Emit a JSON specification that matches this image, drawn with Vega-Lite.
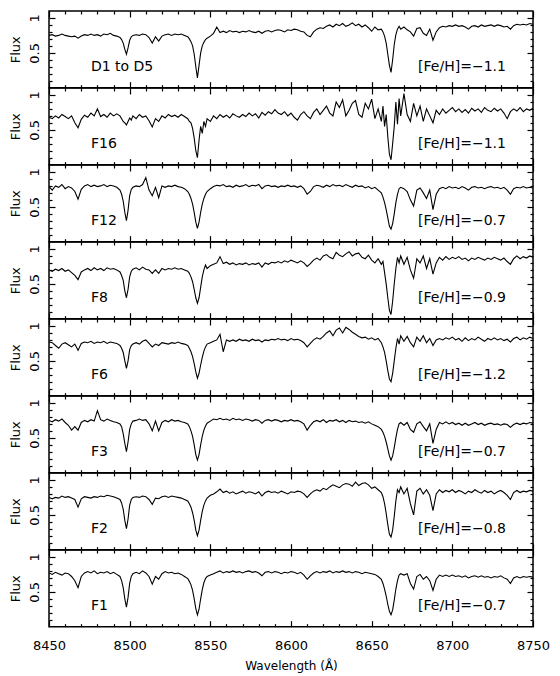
{
"$schema": "https://vega.github.io/schema/vega-lite/v6.json",
"padding": {"left": 8, "top": 9, "right": 5, "bottom": 5},
"spacing": 0,
"bounds": "flush",
"config": {
  "view": {"stroke": "black", "strokeWidth": 1.5},
  "font": "DejaVu Sans",
  "axis": {"domain": false, "grid": false, "tickColor": "black", "tickWidth": 1.2, "labelColor": "black", "labelFontSize": 13, "labelFont": "DejaVu Sans", "titleColor": "black", "titleFont": "DejaVu Sans", "titleFontSize": 13, "titleFontWeight": "normal", "labelFlush": false, "labelOverlap": false, "minExtent": 0, "offset": 0},
  "concat": {"spacing": 0},
  "text": {"font": "DejaVu Sans", "fontSize": 14, "color": "black"}
},
"vconcat": [
{
"width": 484, "height": 76.67,
"data": {"values": [
{"w":8450,"f":0.75},{"w":8452,"f":0.76},{"w":8454,"f":0.74},{"w":8456,"f":0.75},{"w":8458,"f":0.77},{"w":8460,"f":0.75},{"w":8462,"f":0.74},{"w":8464,"f":0.73},{"w":8466,"f":0.74},{"w":8468,"f":0.71},{"w":8470,"f":0.74},{"w":8472,"f":0.76},{"w":8474,"f":0.75},{"w":8476,"f":0.77},{"w":8478,"f":0.75},{"w":8480,"f":0.76},{"w":8482,"f":0.74},{"w":8484,"f":0.77},{"w":8486,"f":0.76},{"w":8488,"f":0.78},{"w":8490,"f":0.75},{"w":8492,"f":0.74},
{"w":8494,"f":0.72},{"w":8495,"f":0.69},{"w":8496,"f":0.64},{"w":8497,"f":0.55},{"w":8498,"f":0.48},{"w":8499,"f":0.57},{"w":8500,"f":0.68},{"w":8501,"f":0.73},{"w":8502,"f":0.75},
{"w":8504,"f":0.76},{"w":8506,"f":0.75},{"w":8508,"f":0.77},{"w":8510,"f":0.76},{"w":8512,"f":0.72},{"w":8514,"f":0.64},{"w":8516,"f":0.73},{"w":8518,"f":0.67},{"w":8520,"f":0.74},{"w":8522,"f":0.76},{"w":8524,"f":0.77},{"w":8526,"f":0.75},{"w":8528,"f":0.77},{"w":8530,"f":0.76},{"w":8532,"f":0.77},{"w":8534,"f":0.75},
{"w":8536,"f":0.73},{"w":8537,"f":0.70},{"w":8538,"f":0.66},{"w":8539,"f":0.60},{"w":8540,"f":0.48},{"w":8541,"f":0.30},{"w":8542,"f":0.14},{"w":8543,"f":0.32},{"w":8544,"f":0.50},{"w":8545,"f":0.60},{"w":8546,"f":0.65},{"w":8547,"f":0.69},{"w":8548,"f":0.71},
{"w":8550,"f":0.74},{"w":8552,"f":0.78},{"w":8554,"f":0.87},{"w":8556,"f":0.79},{"w":8558,"f":0.81},{"w":8560,"f":0.79},{"w":8562,"f":0.82},{"w":8564,"f":0.80},{"w":8566,"f":0.81},{"w":8568,"f":0.79},{"w":8570,"f":0.81},{"w":8572,"f":0.80},{"w":8574,"f":0.82},{"w":8576,"f":0.80},{"w":8578,"f":0.79},{"w":8580,"f":0.81},{"w":8582,"f":0.78},{"w":8584,"f":0.81},{"w":8586,"f":0.82},{"w":8588,"f":0.80},{"w":8590,"f":0.82},{"w":8592,"f":0.83},{"w":8594,"f":0.82},{"w":8596,"f":0.80},{"w":8598,"f":0.83},{"w":8600,"f":0.82},{"w":8602,"f":0.84},{"w":8604,"f":0.83},{"w":8606,"f":0.81},{"w":8608,"f":0.80},{"w":8610,"f":0.75},{"w":8612,"f":0.73},{"w":8614,"f":0.80},{"w":8616,"f":0.84},{"w":8618,"f":0.86},{"w":8620,"f":0.85},{"w":8622,"f":0.88},{"w":8624,"f":0.90},{"w":8626,"f":0.87},{"w":8628,"f":0.91},{"w":8630,"f":0.89},{"w":8632,"f":0.92},{"w":8634,"f":0.88},{"w":8636,"f":0.90},{"w":8638,"f":0.93},{"w":8640,"f":0.89},{"w":8642,"f":0.91},{"w":8644,"f":0.87},{"w":8646,"f":0.90},{"w":8648,"f":0.86},{"w":8650,"f":0.81},{"w":8652,"f":0.87},{"w":8654,"f":0.83},
{"w":8656,"f":0.84},{"w":8657,"f":0.80},{"w":8658,"f":0.74},{"w":8659,"f":0.64},{"w":8660,"f":0.48},{"w":8661,"f":0.32},{"w":8662,"f":0.22},{"w":8663,"f":0.40},{"w":8664,"f":0.62},{"w":8665,"f":0.76},{"w":8666,"f":0.84},{"w":8667,"f":0.88},{"w":8668,"f":0.84},
{"w":8670,"f":0.87},{"w":8672,"f":0.83},{"w":8674,"f":0.80},{"w":8676,"f":0.74},{"w":8678,"f":0.85},{"w":8680,"f":0.86},{"w":8682,"f":0.78},{"w":8684,"f":0.75},{"w":8686,"f":0.84},{"w":8688,"f":0.68},{"w":8690,"f":0.80},{"w":8692,"f":0.86},{"w":8694,"f":0.88},{"w":8696,"f":0.87},{"w":8698,"f":0.89},{"w":8700,"f":0.88},{"w":8702,"f":0.90},{"w":8704,"f":0.88},{"w":8706,"f":0.89},{"w":8708,"f":0.87},{"w":8710,"f":0.84},{"w":8712,"f":0.88},{"w":8714,"f":0.89},{"w":8716,"f":0.87},{"w":8718,"f":0.90},{"w":8720,"f":0.88},{"w":8722,"f":0.89},{"w":8724,"f":0.90},{"w":8726,"f":0.88},{"w":8728,"f":0.90},{"w":8730,"f":0.89},{"w":8732,"f":0.87},{"w":8734,"f":0.88},{"w":8736,"f":0.84},{"w":8738,"f":0.89},{"w":8740,"f":0.91},{"w":8742,"f":0.90},{"w":8744,"f":0.91},{"w":8746,"f":0.90},{"w":8748,"f":0.92},{"w":8750,"f":0.91}
]},
"layer": [
{"mark": {"type": "line", "color": "black", "strokeWidth": 1.1, "clip": true},
 "encoding": {
  "x": {"field": "w", "type": "quantitative", "scale": {"domain": [8450, 8750], "nice": false, "zero": false}, "axis": {"orient": "bottom", "values": [8450,8500,8550,8600,8650,8700,8750], "tickSize": -6, "labels": false, "title": null, "maxExtent": 0}},
  "y": {"field": "f", "type": "quantitative", "scale": {"domain": [0, 1.1], "nice": false, "zero": false}, "axis": {"orient": "left", "values": [0.5, 1], "labelExpr": "toString(datum.value)", "tickSize": -6, "labelAngle": -90, "labelPadding": 14, "title": "Flux", "titlePadding": 6}}}},
{"mark": {"type": "line", "opacity": 0},
 "encoding": {
  "x": {"field": "w", "type": "quantitative", "scale": {"domain": [8450, 8750], "nice": false, "zero": false}, "axis": {"orient": "top", "values": [8450,8500,8550,8600,8650,8700,8750], "tickSize": -6, "labels": false, "title": null, "maxExtent": 0}},
  "y": {"field": "f", "type": "quantitative", "scale": {"domain": [0, 1.1], "nice": false, "zero": false}, "axis": {"orient": "right", "values": [0.5, 1], "tickSize": -6, "labels": false, "title": null, "maxExtent": 0}}}},
{"mark": {"type": "line", "opacity": 0},
 "encoding": {
  "x": {"field": "w", "type": "quantitative", "scale": {"domain": [8450, 8750], "nice": false, "zero": false}, "axis": {"orient": "bottom", "values": [8460,8470,8480,8490,8510,8520,8530,8540,8560,8570,8580,8590,8610,8620,8630,8640,8660,8670,8680,8690,8710,8720,8730,8740], "tickSize": -3, "labels": false, "title": null, "maxExtent": 0}},
  "y": {"field": "f", "type": "quantitative", "scale": {"domain": [0, 1.1], "nice": false, "zero": false}, "axis": {"orient": "left", "values": [0.1,0.2,0.3,0.4,0.6,0.7,0.8,0.9], "tickSize": -3, "labels": false, "title": null, "maxExtent": 0}}}},
{"mark": {"type": "line", "opacity": 0},
 "encoding": {
  "x": {"field": "w", "type": "quantitative", "scale": {"domain": [8450, 8750], "nice": false, "zero": false}, "axis": {"orient": "top", "values": [8460,8470,8480,8490,8510,8520,8530,8540,8560,8570,8580,8590,8610,8620,8630,8640,8660,8670,8680,8690,8710,8720,8730,8740], "tickSize": -3, "labels": false, "title": null, "maxExtent": 0}},
  "y": {"field": "f", "type": "quantitative", "scale": {"domain": [0, 1.1], "nice": false, "zero": false}, "axis": {"orient": "right", "values": [0.1,0.2,0.3,0.4,0.6,0.7,0.8,0.9], "tickSize": -3, "labels": false, "title": null, "maxExtent": 0}}}},
{"data": {"values": [{"label": "D1 to D5"}]},
 "mark": {"type": "text", "align": "left", "baseline": "middle"},
 "encoding": {
  "x": {"datum": 8476, "type": "quantitative", "scale": {"domain": [8450, 8750], "nice": false, "zero": false}, "axis": null},
  "y": {"datum": 0.3, "type": "quantitative", "scale": {"domain": [0, 1.1], "nice": false, "zero": false}, "axis": null},
  "text": {"field": "label"}}},
{"data": {"values": [{"label": "[Fe/H]=−1.1"}]},
 "mark": {"type": "text", "align": "center", "baseline": "middle"},
 "encoding": {
  "x": {"datum": 8706, "type": "quantitative", "scale": {"domain": [8450, 8750], "nice": false, "zero": false}, "axis": null},
  "y": {"datum": 0.3, "type": "quantitative", "scale": {"domain": [0, 1.1], "nice": false, "zero": false}, "axis": null},
  "text": {"field": "label"}}}
],
"resolve": {"axis": {"x": "independent", "y": "independent"}}
},
{
"width": 484, "height": 76.67,
"data": {"values": [
{"w":8450,"f":0.68},{"w":8452,"f":0.66},{"w":8454,"f":0.70},{"w":8456,"f":0.67},{"w":8458,"f":0.72},{"w":8460,"f":0.69},{"w":8462,"f":0.66},{"w":8464,"f":0.70},{"w":8466,"f":0.60},{"w":8468,"f":0.53},{"w":8470,"f":0.65},{"w":8472,"f":0.71},{"w":8474,"f":0.68},{"w":8476,"f":0.74},{"w":8478,"f":0.70},{"w":8480,"f":0.80},{"w":8482,"f":0.69},{"w":8484,"f":0.72},{"w":8486,"f":0.68},{"w":8488,"f":0.74},{"w":8490,"f":0.70},{"w":8492,"f":0.73},
{"w":8494,"f":0.70},{"w":8495,"f":0.66},{"w":8496,"f":0.62},{"w":8497,"f":0.60},{"w":8498,"f":0.57},{"w":8499,"f":0.62},{"w":8500,"f":0.67},{"w":8501,"f":0.64},{"w":8502,"f":0.70},
{"w":8504,"f":0.66},{"w":8506,"f":0.72},{"w":8508,"f":0.68},{"w":8510,"f":0.70},{"w":8512,"f":0.63},{"w":8514,"f":0.54},{"w":8516,"f":0.66},{"w":8518,"f":0.62},{"w":8520,"f":0.70},{"w":8522,"f":0.67},{"w":8524,"f":0.72},{"w":8526,"f":0.69},{"w":8528,"f":0.71},{"w":8530,"f":0.68},{"w":8532,"f":0.72},{"w":8534,"f":0.69},
{"w":8536,"f":0.66},{"w":8537,"f":0.62},{"w":8538,"f":0.60},{"w":8539,"f":0.52},{"w":8540,"f":0.38},{"w":8541,"f":0.20},{"w":8542,"f":0.10},{"w":8543,"f":0.35},{"w":8544,"f":0.55},{"w":8545,"f":0.45},{"w":8546,"f":0.62},{"w":8547,"f":0.55},{"w":8548,"f":0.66},
{"w":8550,"f":0.62},{"w":8552,"f":0.70},{"w":8554,"f":0.66},{"w":8556,"f":0.72},{"w":8558,"f":0.68},{"w":8560,"f":0.71},{"w":8562,"f":0.67},{"w":8564,"f":0.73},{"w":8566,"f":0.70},{"w":8568,"f":0.68},{"w":8570,"f":0.72},{"w":8572,"f":0.69},{"w":8574,"f":0.74},{"w":8576,"f":0.70},{"w":8578,"f":0.73},{"w":8580,"f":0.67},{"w":8582,"f":0.75},{"w":8584,"f":0.71},{"w":8586,"f":0.76},{"w":8588,"f":0.73},{"w":8590,"f":0.79},{"w":8592,"f":0.74},{"w":8594,"f":0.72},{"w":8596,"f":0.76},{"w":8598,"f":0.70},{"w":8600,"f":0.74},{"w":8602,"f":0.68},{"w":8604,"f":0.64},{"w":8606,"f":0.72},{"w":8608,"f":0.76},{"w":8610,"f":0.70},{"w":8612,"f":0.66},{"w":8614,"f":0.75},{"w":8616,"f":0.80},{"w":8618,"f":0.72},{"w":8620,"f":0.78},{"w":8622,"f":0.84},{"w":8624,"f":0.74},{"w":8626,"f":0.70},{"w":8628,"f":0.90},{"w":8630,"f":0.82},{"w":8632,"f":0.93},{"w":8634,"f":0.70},{"w":8636,"f":0.78},{"w":8638,"f":0.88},{"w":8640,"f":0.92},{"w":8642,"f":0.72},{"w":8644,"f":0.68},{"w":8646,"f":0.88},{"w":8648,"f":0.80},{"w":8650,"f":0.94},{"w":8652,"f":0.66},{"w":8654,"f":0.80},
{"w":8656,"f":0.62},{"w":8657,"f":0.84},{"w":8658,"f":0.55},{"w":8659,"f":0.72},{"w":8660,"f":0.40},{"w":8661,"f":0.15},{"w":8662,"f":0.07},{"w":8663,"f":0.30},{"w":8664,"f":0.55},{"w":8665,"f":0.90},{"w":8666,"f":0.58},{"w":8667,"f":0.95},{"w":8668,"f":0.70},
{"w":8670,"f":1.02},{"w":8672,"f":0.72},{"w":8674,"f":0.62},{"w":8676,"f":0.88},{"w":8678,"f":0.70},{"w":8680,"f":0.84},{"w":8682,"f":0.62},{"w":8684,"f":0.80},{"w":8686,"f":0.70},{"w":8688,"f":0.60},{"w":8690,"f":0.78},{"w":8692,"f":0.72},{"w":8694,"f":0.80},{"w":8696,"f":0.74},{"w":8698,"f":0.78},{"w":8700,"f":0.82},{"w":8702,"f":0.76},{"w":8704,"f":0.80},{"w":8706,"f":0.75},{"w":8708,"f":0.79},{"w":8710,"f":0.74},{"w":8712,"f":0.81},{"w":8714,"f":0.77},{"w":8716,"f":0.80},{"w":8718,"f":0.75},{"w":8720,"f":0.82},{"w":8722,"f":0.78},{"w":8724,"f":0.76},{"w":8726,"f":0.81},{"w":8728,"f":0.77},{"w":8730,"f":0.80},{"w":8732,"f":0.74},{"w":8734,"f":0.66},{"w":8736,"f":0.76},{"w":8738,"f":0.80},{"w":8740,"f":0.77},{"w":8742,"f":0.82},{"w":8744,"f":0.76},{"w":8746,"f":0.80},{"w":8748,"f":0.78},{"w":8750,"f":0.81}
]},
"layer": [
{"mark": {"type": "line", "color": "black", "strokeWidth": 1.1, "clip": true},
 "encoding": {
  "x": {"field": "w", "type": "quantitative", "scale": {"domain": [8450, 8750], "nice": false, "zero": false}, "axis": {"orient": "bottom", "values": [8450,8500,8550,8600,8650,8700,8750], "tickSize": -6, "labels": false, "title": null, "maxExtent": 0}},
  "y": {"field": "f", "type": "quantitative", "scale": {"domain": [0, 1.1], "nice": false, "zero": false}, "axis": {"orient": "left", "values": [0.5, 1], "labelExpr": "toString(datum.value)", "tickSize": -6, "labelAngle": -90, "labelPadding": 14, "title": "Flux", "titlePadding": 6}}}},
{"mark": {"type": "line", "opacity": 0},
 "encoding": {
  "x": {"field": "w", "type": "quantitative", "scale": {"domain": [8450, 8750], "nice": false, "zero": false}, "axis": {"orient": "top", "values": [8450,8500,8550,8600,8650,8700,8750], "tickSize": -6, "labels": false, "title": null, "maxExtent": 0}},
  "y": {"field": "f", "type": "quantitative", "scale": {"domain": [0, 1.1], "nice": false, "zero": false}, "axis": {"orient": "right", "values": [0.5, 1], "tickSize": -6, "labels": false, "title": null, "maxExtent": 0}}}},
{"mark": {"type": "line", "opacity": 0},
 "encoding": {
  "x": {"field": "w", "type": "quantitative", "scale": {"domain": [8450, 8750], "nice": false, "zero": false}, "axis": {"orient": "bottom", "values": [8460,8470,8480,8490,8510,8520,8530,8540,8560,8570,8580,8590,8610,8620,8630,8640,8660,8670,8680,8690,8710,8720,8730,8740], "tickSize": -3, "labels": false, "title": null, "maxExtent": 0}},
  "y": {"field": "f", "type": "quantitative", "scale": {"domain": [0, 1.1], "nice": false, "zero": false}, "axis": {"orient": "left", "values": [0.1,0.2,0.3,0.4,0.6,0.7,0.8,0.9], "tickSize": -3, "labels": false, "title": null, "maxExtent": 0}}}},
{"mark": {"type": "line", "opacity": 0},
 "encoding": {
  "x": {"field": "w", "type": "quantitative", "scale": {"domain": [8450, 8750], "nice": false, "zero": false}, "axis": {"orient": "top", "values": [8460,8470,8480,8490,8510,8520,8530,8540,8560,8570,8580,8590,8610,8620,8630,8640,8660,8670,8680,8690,8710,8720,8730,8740], "tickSize": -3, "labels": false, "title": null, "maxExtent": 0}},
  "y": {"field": "f", "type": "quantitative", "scale": {"domain": [0, 1.1], "nice": false, "zero": false}, "axis": {"orient": "right", "values": [0.1,0.2,0.3,0.4,0.6,0.7,0.8,0.9], "tickSize": -3, "labels": false, "title": null, "maxExtent": 0}}}},
{"data": {"values": [{"label": "F16"}]},
 "mark": {"type": "text", "align": "left", "baseline": "middle"},
 "encoding": {
  "x": {"datum": 8476, "type": "quantitative", "scale": {"domain": [8450, 8750], "nice": false, "zero": false}, "axis": null},
  "y": {"datum": 0.3, "type": "quantitative", "scale": {"domain": [0, 1.1], "nice": false, "zero": false}, "axis": null},
  "text": {"field": "label"}}},
{"data": {"values": [{"label": "[Fe/H]=−1.1"}]},
 "mark": {"type": "text", "align": "center", "baseline": "middle"},
 "encoding": {
  "x": {"datum": 8706, "type": "quantitative", "scale": {"domain": [8450, 8750], "nice": false, "zero": false}, "axis": null},
  "y": {"datum": 0.3, "type": "quantitative", "scale": {"domain": [0, 1.1], "nice": false, "zero": false}, "axis": null},
  "text": {"field": "label"}}}
],
"resolve": {"axis": {"x": "independent", "y": "independent"}}
},
{
"width": 484, "height": 76.67,
"data": {"values": [
{"w":8450,"f":0.79},{"w":8452,"f":0.74},{"w":8454,"f":0.80},{"w":8456,"f":0.78},{"w":8458,"f":0.82},{"w":8460,"f":0.76},{"w":8462,"f":0.79},{"w":8464,"f":0.77},{"w":8466,"f":0.72},{"w":8468,"f":0.61},{"w":8470,"f":0.75},{"w":8472,"f":0.80},{"w":8474,"f":0.82},{"w":8476,"f":0.79},{"w":8478,"f":0.81},{"w":8480,"f":0.79},{"w":8482,"f":0.80},{"w":8484,"f":0.82},{"w":8486,"f":0.79},{"w":8488,"f":0.81},{"w":8490,"f":0.80},{"w":8492,"f":0.78},
{"w":8494,"f":0.74},{"w":8495,"f":0.68},{"w":8496,"f":0.58},{"w":8497,"f":0.42},{"w":8498,"f":0.30},{"w":8499,"f":0.45},{"w":8500,"f":0.66},{"w":8501,"f":0.75},{"w":8502,"f":0.78},
{"w":8504,"f":0.80},{"w":8506,"f":0.79},{"w":8508,"f":0.82},{"w":8510,"f":0.92},{"w":8512,"f":0.74},{"w":8514,"f":0.66},{"w":8516,"f":0.78},{"w":8518,"f":0.63},{"w":8520,"f":0.80},{"w":8522,"f":0.78},{"w":8524,"f":0.80},{"w":8526,"f":0.79},{"w":8528,"f":0.81},{"w":8530,"f":0.79},{"w":8532,"f":0.78},{"w":8534,"f":0.76},
{"w":8536,"f":0.72},{"w":8537,"f":0.68},{"w":8538,"f":0.62},{"w":8539,"f":0.54},{"w":8540,"f":0.42},{"w":8541,"f":0.28},{"w":8542,"f":0.19},{"w":8543,"f":0.28},{"w":8544,"f":0.42},{"w":8545,"f":0.54},{"w":8546,"f":0.62},{"w":8547,"f":0.68},{"w":8548,"f":0.72},
{"w":8550,"f":0.76},{"w":8552,"f":0.79},{"w":8554,"f":0.81},{"w":8556,"f":0.80},{"w":8558,"f":0.82},{"w":8560,"f":0.79},{"w":8562,"f":0.80},{"w":8564,"f":0.78},{"w":8566,"f":0.81},{"w":8568,"f":0.79},{"w":8570,"f":0.80},{"w":8572,"f":0.82},{"w":8574,"f":0.79},{"w":8576,"f":0.81},{"w":8578,"f":0.80},{"w":8580,"f":0.82},{"w":8582,"f":0.76},{"w":8584,"f":0.80},{"w":8586,"f":0.81},{"w":8588,"f":0.79},{"w":8590,"f":0.80},{"w":8592,"f":0.78},{"w":8594,"f":0.80},{"w":8596,"f":0.79},{"w":8598,"f":0.81},{"w":8600,"f":0.79},{"w":8602,"f":0.80},{"w":8604,"f":0.78},{"w":8606,"f":0.80},{"w":8608,"f":0.76},{"w":8610,"f":0.68},{"w":8612,"f":0.72},{"w":8614,"f":0.79},{"w":8616,"f":0.81},{"w":8618,"f":0.80},{"w":8620,"f":0.78},{"w":8622,"f":0.81},{"w":8624,"f":0.79},{"w":8626,"f":0.82},{"w":8628,"f":0.80},{"w":8630,"f":0.81},{"w":8632,"f":0.79},{"w":8634,"f":0.82},{"w":8636,"f":0.80},{"w":8638,"f":0.78},{"w":8640,"f":0.81},{"w":8642,"f":0.79},{"w":8644,"f":0.80},{"w":8646,"f":0.77},{"w":8648,"f":0.79},{"w":8650,"f":0.76},{"w":8652,"f":0.78},{"w":8654,"f":0.74},
{"w":8656,"f":0.70},{"w":8657,"f":0.64},{"w":8658,"f":0.56},{"w":8659,"f":0.46},{"w":8660,"f":0.34},{"w":8661,"f":0.22},{"w":8662,"f":0.18},{"w":8663,"f":0.26},{"w":8664,"f":0.40},{"w":8665,"f":0.56},{"w":8666,"f":0.68},{"w":8667,"f":0.76},{"w":8668,"f":0.78},
{"w":8670,"f":0.76},{"w":8672,"f":0.72},{"w":8674,"f":0.60},{"w":8676,"f":0.51},{"w":8678,"f":0.74},{"w":8680,"f":0.77},{"w":8682,"f":0.70},{"w":8684,"f":0.62},{"w":8686,"f":0.74},{"w":8688,"f":0.46},{"w":8690,"f":0.68},{"w":8692,"f":0.76},{"w":8694,"f":0.78},{"w":8696,"f":0.76},{"w":8698,"f":0.79},{"w":8700,"f":0.77},{"w":8702,"f":0.78},{"w":8704,"f":0.76},{"w":8706,"f":0.79},{"w":8708,"f":0.77},{"w":8710,"f":0.74},{"w":8712,"f":0.78},{"w":8714,"f":0.79},{"w":8716,"f":0.77},{"w":8718,"f":0.78},{"w":8720,"f":0.76},{"w":8722,"f":0.78},{"w":8724,"f":0.79},{"w":8726,"f":0.77},{"w":8728,"f":0.78},{"w":8730,"f":0.76},{"w":8732,"f":0.78},{"w":8734,"f":0.74},{"w":8736,"f":0.68},{"w":8738,"f":0.76},{"w":8740,"f":0.78},{"w":8742,"f":0.77},{"w":8744,"f":0.79},{"w":8746,"f":0.77},{"w":8748,"f":0.78},{"w":8750,"f":0.77}
]},
"layer": [
{"mark": {"type": "line", "color": "black", "strokeWidth": 1.1, "clip": true},
 "encoding": {
  "x": {"field": "w", "type": "quantitative", "scale": {"domain": [8450, 8750], "nice": false, "zero": false}, "axis": {"orient": "bottom", "values": [8450,8500,8550,8600,8650,8700,8750], "tickSize": -6, "labels": false, "title": null, "maxExtent": 0}},
  "y": {"field": "f", "type": "quantitative", "scale": {"domain": [0, 1.1], "nice": false, "zero": false}, "axis": {"orient": "left", "values": [0.5, 1], "labelExpr": "toString(datum.value)", "tickSize": -6, "labelAngle": -90, "labelPadding": 14, "title": "Flux", "titlePadding": 6}}}},
{"mark": {"type": "line", "opacity": 0},
 "encoding": {
  "x": {"field": "w", "type": "quantitative", "scale": {"domain": [8450, 8750], "nice": false, "zero": false}, "axis": {"orient": "top", "values": [8450,8500,8550,8600,8650,8700,8750], "tickSize": -6, "labels": false, "title": null, "maxExtent": 0}},
  "y": {"field": "f", "type": "quantitative", "scale": {"domain": [0, 1.1], "nice": false, "zero": false}, "axis": {"orient": "right", "values": [0.5, 1], "tickSize": -6, "labels": false, "title": null, "maxExtent": 0}}}},
{"mark": {"type": "line", "opacity": 0},
 "encoding": {
  "x": {"field": "w", "type": "quantitative", "scale": {"domain": [8450, 8750], "nice": false, "zero": false}, "axis": {"orient": "bottom", "values": [8460,8470,8480,8490,8510,8520,8530,8540,8560,8570,8580,8590,8610,8620,8630,8640,8660,8670,8680,8690,8710,8720,8730,8740], "tickSize": -3, "labels": false, "title": null, "maxExtent": 0}},
  "y": {"field": "f", "type": "quantitative", "scale": {"domain": [0, 1.1], "nice": false, "zero": false}, "axis": {"orient": "left", "values": [0.1,0.2,0.3,0.4,0.6,0.7,0.8,0.9], "tickSize": -3, "labels": false, "title": null, "maxExtent": 0}}}},
{"mark": {"type": "line", "opacity": 0},
 "encoding": {
  "x": {"field": "w", "type": "quantitative", "scale": {"domain": [8450, 8750], "nice": false, "zero": false}, "axis": {"orient": "top", "values": [8460,8470,8480,8490,8510,8520,8530,8540,8560,8570,8580,8590,8610,8620,8630,8640,8660,8670,8680,8690,8710,8720,8730,8740], "tickSize": -3, "labels": false, "title": null, "maxExtent": 0}},
  "y": {"field": "f", "type": "quantitative", "scale": {"domain": [0, 1.1], "nice": false, "zero": false}, "axis": {"orient": "right", "values": [0.1,0.2,0.3,0.4,0.6,0.7,0.8,0.9], "tickSize": -3, "labels": false, "title": null, "maxExtent": 0}}}},
{"data": {"values": [{"label": "F12"}]},
 "mark": {"type": "text", "align": "left", "baseline": "middle"},
 "encoding": {
  "x": {"datum": 8476, "type": "quantitative", "scale": {"domain": [8450, 8750], "nice": false, "zero": false}, "axis": null},
  "y": {"datum": 0.3, "type": "quantitative", "scale": {"domain": [0, 1.1], "nice": false, "zero": false}, "axis": null},
  "text": {"field": "label"}}},
{"data": {"values": [{"label": "[Fe/H]=−0.7"}]},
 "mark": {"type": "text", "align": "center", "baseline": "middle"},
 "encoding": {
  "x": {"datum": 8706, "type": "quantitative", "scale": {"domain": [8450, 8750], "nice": false, "zero": false}, "axis": null},
  "y": {"datum": 0.3, "type": "quantitative", "scale": {"domain": [0, 1.1], "nice": false, "zero": false}, "axis": null},
  "text": {"field": "label"}}}
],
"resolve": {"axis": {"x": "independent", "y": "independent"}}
},
{
"width": 484, "height": 76.67,
"data": {"values": [
{"w":8450,"f":0.70},{"w":8452,"f":0.68},{"w":8454,"f":0.71},{"w":8456,"f":0.69},{"w":8458,"f":0.72},{"w":8460,"f":0.68},{"w":8462,"f":0.70},{"w":8464,"f":0.66},{"w":8466,"f":0.62},{"w":8468,"f":0.56},{"w":8470,"f":0.67},{"w":8472,"f":0.70},{"w":8474,"f":0.72},{"w":8476,"f":0.69},{"w":8478,"f":0.73},{"w":8480,"f":0.70},{"w":8482,"f":0.72},{"w":8484,"f":0.69},{"w":8486,"f":0.73},{"w":8488,"f":0.71},{"w":8490,"f":0.72},{"w":8492,"f":0.70},
{"w":8494,"f":0.67},{"w":8495,"f":0.62},{"w":8496,"f":0.55},{"w":8497,"f":0.40},{"w":8498,"f":0.30},{"w":8499,"f":0.42},{"w":8500,"f":0.60},{"w":8501,"f":0.68},{"w":8502,"f":0.71},
{"w":8504,"f":0.73},{"w":8506,"f":0.70},{"w":8508,"f":0.74},{"w":8510,"f":0.71},{"w":8512,"f":0.70},{"w":8514,"f":0.65},{"w":8516,"f":0.70},{"w":8518,"f":0.65},{"w":8520,"f":0.72},{"w":8522,"f":0.70},{"w":8524,"f":0.72},{"w":8526,"f":0.71},{"w":8528,"f":0.73},{"w":8530,"f":0.71},{"w":8532,"f":0.72},{"w":8534,"f":0.70},
{"w":8536,"f":0.68},{"w":8537,"f":0.65},{"w":8538,"f":0.60},{"w":8539,"f":0.53},{"w":8540,"f":0.42},{"w":8541,"f":0.30},{"w":8542,"f":0.22},{"w":8543,"f":0.30},{"w":8544,"f":0.45},{"w":8545,"f":0.60},{"w":8546,"f":0.70},{"w":8547,"f":0.77},{"w":8548,"f":0.72},
{"w":8550,"f":0.76},{"w":8552,"f":0.78},{"w":8554,"f":0.80},{"w":8556,"f":0.89},{"w":8558,"f":0.79},{"w":8560,"f":0.81},{"w":8562,"f":0.78},{"w":8564,"f":0.80},{"w":8566,"f":0.77},{"w":8568,"f":0.79},{"w":8570,"f":0.78},{"w":8572,"f":0.80},{"w":8574,"f":0.77},{"w":8576,"f":0.79},{"w":8578,"f":0.78},{"w":8580,"f":0.80},{"w":8582,"f":0.74},{"w":8584,"f":0.80},{"w":8586,"f":0.78},{"w":8588,"f":0.81},{"w":8590,"f":0.80},{"w":8592,"f":0.82},{"w":8594,"f":0.80},{"w":8596,"f":0.83},{"w":8598,"f":0.81},{"w":8600,"f":0.84},{"w":8602,"f":0.82},{"w":8604,"f":0.80},{"w":8606,"f":0.83},{"w":8608,"f":0.80},{"w":8610,"f":0.75},{"w":8612,"f":0.79},{"w":8614,"f":0.84},{"w":8616,"f":0.87},{"w":8618,"f":0.84},{"w":8620,"f":0.90},{"w":8622,"f":0.92},{"w":8624,"f":0.88},{"w":8626,"f":0.86},{"w":8628,"f":0.95},{"w":8630,"f":0.91},{"w":8632,"f":0.89},{"w":8634,"f":0.93},{"w":8636,"f":0.96},{"w":8638,"f":0.90},{"w":8640,"f":0.93},{"w":8642,"f":0.94},{"w":8644,"f":0.88},{"w":8646,"f":0.86},{"w":8648,"f":0.91},{"w":8650,"f":0.84},{"w":8652,"f":0.80},{"w":8654,"f":0.86},
{"w":8656,"f":0.78},{"w":8657,"f":0.82},{"w":8658,"f":0.66},{"w":8659,"f":0.50},{"w":8660,"f":0.30},{"w":8661,"f":0.12},{"w":8662,"f":0.06},{"w":8663,"f":0.25},{"w":8664,"f":0.50},{"w":8665,"f":0.72},{"w":8666,"f":0.88},{"w":8667,"f":0.80},{"w":8668,"f":0.90},
{"w":8670,"f":0.78},{"w":8672,"f":0.88},{"w":8674,"f":0.70},{"w":8676,"f":0.58},{"w":8678,"f":0.86},{"w":8680,"f":0.80},{"w":8682,"f":0.90},{"w":8684,"f":0.72},{"w":8686,"f":0.86},{"w":8688,"f":0.64},{"w":8690,"f":0.80},{"w":8692,"f":0.88},{"w":8694,"f":0.84},{"w":8696,"f":0.89},{"w":8698,"f":0.85},{"w":8700,"f":0.88},{"w":8702,"f":0.86},{"w":8704,"f":0.89},{"w":8706,"f":0.85},{"w":8708,"f":0.87},{"w":8710,"f":0.83},{"w":8712,"f":0.87},{"w":8714,"f":0.85},{"w":8716,"f":0.88},{"w":8718,"f":0.86},{"w":8720,"f":0.84},{"w":8722,"f":0.87},{"w":8724,"f":0.85},{"w":8726,"f":0.88},{"w":8728,"f":0.86},{"w":8730,"f":0.84},{"w":8732,"f":0.87},{"w":8734,"f":0.82},{"w":8736,"f":0.78},{"w":8738,"f":0.86},{"w":8740,"f":0.90},{"w":8742,"f":0.86},{"w":8744,"f":0.89},{"w":8746,"f":0.87},{"w":8748,"f":0.90},{"w":8750,"f":0.88}
]},
"layer": [
{"mark": {"type": "line", "color": "black", "strokeWidth": 1.1, "clip": true},
 "encoding": {
  "x": {"field": "w", "type": "quantitative", "scale": {"domain": [8450, 8750], "nice": false, "zero": false}, "axis": {"orient": "bottom", "values": [8450,8500,8550,8600,8650,8700,8750], "tickSize": -6, "labels": false, "title": null, "maxExtent": 0}},
  "y": {"field": "f", "type": "quantitative", "scale": {"domain": [0, 1.1], "nice": false, "zero": false}, "axis": {"orient": "left", "values": [0.5, 1], "labelExpr": "toString(datum.value)", "tickSize": -6, "labelAngle": -90, "labelPadding": 14, "title": "Flux", "titlePadding": 6}}}},
{"mark": {"type": "line", "opacity": 0},
 "encoding": {
  "x": {"field": "w", "type": "quantitative", "scale": {"domain": [8450, 8750], "nice": false, "zero": false}, "axis": {"orient": "top", "values": [8450,8500,8550,8600,8650,8700,8750], "tickSize": -6, "labels": false, "title": null, "maxExtent": 0}},
  "y": {"field": "f", "type": "quantitative", "scale": {"domain": [0, 1.1], "nice": false, "zero": false}, "axis": {"orient": "right", "values": [0.5, 1], "tickSize": -6, "labels": false, "title": null, "maxExtent": 0}}}},
{"mark": {"type": "line", "opacity": 0},
 "encoding": {
  "x": {"field": "w", "type": "quantitative", "scale": {"domain": [8450, 8750], "nice": false, "zero": false}, "axis": {"orient": "bottom", "values": [8460,8470,8480,8490,8510,8520,8530,8540,8560,8570,8580,8590,8610,8620,8630,8640,8660,8670,8680,8690,8710,8720,8730,8740], "tickSize": -3, "labels": false, "title": null, "maxExtent": 0}},
  "y": {"field": "f", "type": "quantitative", "scale": {"domain": [0, 1.1], "nice": false, "zero": false}, "axis": {"orient": "left", "values": [0.1,0.2,0.3,0.4,0.6,0.7,0.8,0.9], "tickSize": -3, "labels": false, "title": null, "maxExtent": 0}}}},
{"mark": {"type": "line", "opacity": 0},
 "encoding": {
  "x": {"field": "w", "type": "quantitative", "scale": {"domain": [8450, 8750], "nice": false, "zero": false}, "axis": {"orient": "top", "values": [8460,8470,8480,8490,8510,8520,8530,8540,8560,8570,8580,8590,8610,8620,8630,8640,8660,8670,8680,8690,8710,8720,8730,8740], "tickSize": -3, "labels": false, "title": null, "maxExtent": 0}},
  "y": {"field": "f", "type": "quantitative", "scale": {"domain": [0, 1.1], "nice": false, "zero": false}, "axis": {"orient": "right", "values": [0.1,0.2,0.3,0.4,0.6,0.7,0.8,0.9], "tickSize": -3, "labels": false, "title": null, "maxExtent": 0}}}},
{"data": {"values": [{"label": "F8"}]},
 "mark": {"type": "text", "align": "left", "baseline": "middle"},
 "encoding": {
  "x": {"datum": 8476, "type": "quantitative", "scale": {"domain": [8450, 8750], "nice": false, "zero": false}, "axis": null},
  "y": {"datum": 0.3, "type": "quantitative", "scale": {"domain": [0, 1.1], "nice": false, "zero": false}, "axis": null},
  "text": {"field": "label"}}},
{"data": {"values": [{"label": "[Fe/H]=−0.9"}]},
 "mark": {"type": "text", "align": "center", "baseline": "middle"},
 "encoding": {
  "x": {"datum": 8706, "type": "quantitative", "scale": {"domain": [8450, 8750], "nice": false, "zero": false}, "axis": null},
  "y": {"datum": 0.3, "type": "quantitative", "scale": {"domain": [0, 1.1], "nice": false, "zero": false}, "axis": null},
  "text": {"field": "label"}}}
],
"resolve": {"axis": {"x": "independent", "y": "independent"}}
},
{
"width": 484, "height": 76.67,
"data": {"values": [
{"w":8450,"f":0.77},{"w":8452,"f":0.76},{"w":8454,"f":0.72},{"w":8456,"f":0.68},{"w":8458,"f":0.74},{"w":8460,"f":0.76},{"w":8462,"f":0.73},{"w":8464,"f":0.70},{"w":8466,"f":0.74},{"w":8468,"f":0.65},{"w":8470,"f":0.75},{"w":8472,"f":0.77},{"w":8474,"f":0.76},{"w":8476,"f":0.78},{"w":8478,"f":0.75},{"w":8480,"f":0.77},{"w":8482,"f":0.76},{"w":8484,"f":0.78},{"w":8486,"f":0.75},{"w":8488,"f":0.77},{"w":8490,"f":0.76},{"w":8492,"f":0.75},
{"w":8494,"f":0.72},{"w":8495,"f":0.68},{"w":8496,"f":0.62},{"w":8497,"f":0.50},{"w":8498,"f":0.39},{"w":8499,"f":0.50},{"w":8500,"f":0.66},{"w":8501,"f":0.72},{"w":8502,"f":0.74},
{"w":8504,"f":0.76},{"w":8506,"f":0.74},{"w":8508,"f":0.78},{"w":8510,"f":0.80},{"w":8512,"f":0.75},{"w":8514,"f":0.70},{"w":8516,"f":0.74},{"w":8518,"f":0.72},{"w":8520,"f":0.76},{"w":8522,"f":0.75},{"w":8524,"f":0.74},{"w":8526,"f":0.76},{"w":8528,"f":0.75},{"w":8530,"f":0.77},{"w":8532,"f":0.75},{"w":8534,"f":0.74},
{"w":8536,"f":0.72},{"w":8537,"f":0.68},{"w":8538,"f":0.63},{"w":8539,"f":0.56},{"w":8540,"f":0.46},{"w":8541,"f":0.34},{"w":8542,"f":0.25},{"w":8543,"f":0.32},{"w":8544,"f":0.44},{"w":8545,"f":0.55},{"w":8546,"f":0.64},{"w":8547,"f":0.70},{"w":8548,"f":0.74},
{"w":8550,"f":0.76},{"w":8552,"f":0.78},{"w":8554,"f":0.80},{"w":8556,"f":0.88},{"w":8558,"f":0.63},{"w":8560,"f":0.80},{"w":8562,"f":0.78},{"w":8564,"f":0.80},{"w":8566,"f":0.78},{"w":8568,"f":0.81},{"w":8570,"f":0.79},{"w":8572,"f":0.80},{"w":8574,"f":0.78},{"w":8576,"f":0.81},{"w":8578,"f":0.79},{"w":8580,"f":0.80},{"w":8582,"f":0.77},{"w":8584,"f":0.80},{"w":8586,"f":0.79},{"w":8588,"f":0.81},{"w":8590,"f":0.80},{"w":8592,"f":0.82},{"w":8594,"f":0.80},{"w":8596,"f":0.81},{"w":8598,"f":0.79},{"w":8600,"f":0.82},{"w":8602,"f":0.80},{"w":8604,"f":0.81},{"w":8606,"f":0.79},{"w":8608,"f":0.76},{"w":8610,"f":0.70},{"w":8612,"f":0.75},{"w":8614,"f":0.80},{"w":8616,"f":0.83},{"w":8618,"f":0.81},{"w":8620,"f":0.85},{"w":8622,"f":0.90},{"w":8624,"f":0.93},{"w":8626,"f":0.86},{"w":8628,"f":0.94},{"w":8630,"f":0.97},{"w":8632,"f":0.90},{"w":8634,"f":0.98},{"w":8636,"f":0.95},{"w":8638,"f":0.91},{"w":8640,"f":0.88},{"w":8642,"f":0.85},{"w":8644,"f":0.83},{"w":8646,"f":0.84},{"w":8648,"f":0.81},{"w":8650,"f":0.83},{"w":8652,"f":0.80},{"w":8654,"f":0.82},
{"w":8656,"f":0.76},{"w":8657,"f":0.70},{"w":8658,"f":0.62},{"w":8659,"f":0.50},{"w":8660,"f":0.36},{"w":8661,"f":0.24},{"w":8662,"f":0.20},{"w":8663,"f":0.32},{"w":8664,"f":0.50},{"w":8665,"f":0.68},{"w":8666,"f":0.82},{"w":8667,"f":0.74},{"w":8668,"f":0.86},
{"w":8670,"f":0.78},{"w":8672,"f":0.85},{"w":8674,"f":0.76},{"w":8676,"f":0.70},{"w":8678,"f":0.84},{"w":8680,"f":0.78},{"w":8682,"f":0.86},{"w":8684,"f":0.76},{"w":8686,"f":0.82},{"w":8688,"f":0.72},{"w":8690,"f":0.80},{"w":8692,"f":0.82},{"w":8694,"f":0.80},{"w":8696,"f":0.83},{"w":8698,"f":0.81},{"w":8700,"f":0.84},{"w":8702,"f":0.80},{"w":8704,"f":0.82},{"w":8706,"f":0.78},{"w":8708,"f":0.83},{"w":8710,"f":0.79},{"w":8712,"f":0.82},{"w":8714,"f":0.80},{"w":8716,"f":0.84},{"w":8718,"f":0.81},{"w":8720,"f":0.78},{"w":8722,"f":0.82},{"w":8724,"f":0.80},{"w":8726,"f":0.83},{"w":8728,"f":0.80},{"w":8730,"f":0.82},{"w":8732,"f":0.79},{"w":8734,"f":0.81},{"w":8736,"f":0.77},{"w":8738,"f":0.82},{"w":8740,"f":0.84},{"w":8742,"f":0.80},{"w":8744,"f":0.83},{"w":8746,"f":0.81},{"w":8748,"f":0.84},{"w":8750,"f":0.82}
]},
"layer": [
{"mark": {"type": "line", "color": "black", "strokeWidth": 1.1, "clip": true},
 "encoding": {
  "x": {"field": "w", "type": "quantitative", "scale": {"domain": [8450, 8750], "nice": false, "zero": false}, "axis": {"orient": "bottom", "values": [8450,8500,8550,8600,8650,8700,8750], "tickSize": -6, "labels": false, "title": null, "maxExtent": 0}},
  "y": {"field": "f", "type": "quantitative", "scale": {"domain": [0, 1.1], "nice": false, "zero": false}, "axis": {"orient": "left", "values": [0.5, 1], "labelExpr": "toString(datum.value)", "tickSize": -6, "labelAngle": -90, "labelPadding": 14, "title": "Flux", "titlePadding": 6}}}},
{"mark": {"type": "line", "opacity": 0},
 "encoding": {
  "x": {"field": "w", "type": "quantitative", "scale": {"domain": [8450, 8750], "nice": false, "zero": false}, "axis": {"orient": "top", "values": [8450,8500,8550,8600,8650,8700,8750], "tickSize": -6, "labels": false, "title": null, "maxExtent": 0}},
  "y": {"field": "f", "type": "quantitative", "scale": {"domain": [0, 1.1], "nice": false, "zero": false}, "axis": {"orient": "right", "values": [0.5, 1], "tickSize": -6, "labels": false, "title": null, "maxExtent": 0}}}},
{"mark": {"type": "line", "opacity": 0},
 "encoding": {
  "x": {"field": "w", "type": "quantitative", "scale": {"domain": [8450, 8750], "nice": false, "zero": false}, "axis": {"orient": "bottom", "values": [8460,8470,8480,8490,8510,8520,8530,8540,8560,8570,8580,8590,8610,8620,8630,8640,8660,8670,8680,8690,8710,8720,8730,8740], "tickSize": -3, "labels": false, "title": null, "maxExtent": 0}},
  "y": {"field": "f", "type": "quantitative", "scale": {"domain": [0, 1.1], "nice": false, "zero": false}, "axis": {"orient": "left", "values": [0.1,0.2,0.3,0.4,0.6,0.7,0.8,0.9], "tickSize": -3, "labels": false, "title": null, "maxExtent": 0}}}},
{"mark": {"type": "line", "opacity": 0},
 "encoding": {
  "x": {"field": "w", "type": "quantitative", "scale": {"domain": [8450, 8750], "nice": false, "zero": false}, "axis": {"orient": "top", "values": [8460,8470,8480,8490,8510,8520,8530,8540,8560,8570,8580,8590,8610,8620,8630,8640,8660,8670,8680,8690,8710,8720,8730,8740], "tickSize": -3, "labels": false, "title": null, "maxExtent": 0}},
  "y": {"field": "f", "type": "quantitative", "scale": {"domain": [0, 1.1], "nice": false, "zero": false}, "axis": {"orient": "right", "values": [0.1,0.2,0.3,0.4,0.6,0.7,0.8,0.9], "tickSize": -3, "labels": false, "title": null, "maxExtent": 0}}}},
{"data": {"values": [{"label": "F6"}]},
 "mark": {"type": "text", "align": "left", "baseline": "middle"},
 "encoding": {
  "x": {"datum": 8476, "type": "quantitative", "scale": {"domain": [8450, 8750], "nice": false, "zero": false}, "axis": null},
  "y": {"datum": 0.3, "type": "quantitative", "scale": {"domain": [0, 1.1], "nice": false, "zero": false}, "axis": null},
  "text": {"field": "label"}}},
{"data": {"values": [{"label": "[Fe/H]=−1.2"}]},
 "mark": {"type": "text", "align": "center", "baseline": "middle"},
 "encoding": {
  "x": {"datum": 8706, "type": "quantitative", "scale": {"domain": [8450, 8750], "nice": false, "zero": false}, "axis": null},
  "y": {"datum": 0.3, "type": "quantitative", "scale": {"domain": [0, 1.1], "nice": false, "zero": false}, "axis": null},
  "text": {"field": "label"}}}
],
"resolve": {"axis": {"x": "independent", "y": "independent"}}
},
{
"width": 484, "height": 76.67,
"data": {"values": [
{"w":8450,"f":0.75},{"w":8452,"f":0.73},{"w":8454,"f":0.76},{"w":8456,"f":0.74},{"w":8458,"f":0.77},{"w":8460,"f":0.72},{"w":8462,"f":0.68},{"w":8464,"f":0.61},{"w":8466,"f":0.66},{"w":8468,"f":0.61},{"w":8470,"f":0.72},{"w":8472,"f":0.75},{"w":8474,"f":0.73},{"w":8476,"f":0.76},{"w":8478,"f":0.74},{"w":8480,"f":0.89},{"w":8482,"f":0.76},{"w":8484,"f":0.74},{"w":8486,"f":0.77},{"w":8488,"f":0.75},{"w":8490,"f":0.73},{"w":8492,"f":0.72},
{"w":8494,"f":0.70},{"w":8495,"f":0.66},{"w":8496,"f":0.56},{"w":8497,"f":0.42},{"w":8498,"f":0.30},{"w":8499,"f":0.44},{"w":8500,"f":0.62},{"w":8501,"f":0.70},{"w":8502,"f":0.74},
{"w":8504,"f":0.75},{"w":8506,"f":0.77},{"w":8508,"f":0.75},{"w":8510,"f":0.76},{"w":8512,"f":0.70},{"w":8514,"f":0.60},{"w":8516,"f":0.74},{"w":8518,"f":0.60},{"w":8520,"f":0.72},{"w":8522,"f":0.75},{"w":8524,"f":0.73},{"w":8526,"f":0.76},{"w":8528,"f":0.74},{"w":8530,"f":0.75},{"w":8532,"f":0.73},{"w":8534,"f":0.72},
{"w":8536,"f":0.70},{"w":8537,"f":0.66},{"w":8538,"f":0.60},{"w":8539,"f":0.52},{"w":8540,"f":0.40},{"w":8541,"f":0.26},{"w":8542,"f":0.18},{"w":8543,"f":0.26},{"w":8544,"f":0.40},{"w":8545,"f":0.52},{"w":8546,"f":0.61},{"w":8547,"f":0.67},{"w":8548,"f":0.71},
{"w":8550,"f":0.74},{"w":8552,"f":0.77},{"w":8554,"f":0.76},{"w":8556,"f":0.78},{"w":8558,"f":0.76},{"w":8560,"f":0.77},{"w":8562,"f":0.75},{"w":8564,"f":0.78},{"w":8566,"f":0.76},{"w":8568,"f":0.77},{"w":8570,"f":0.75},{"w":8572,"f":0.77},{"w":8574,"f":0.76},{"w":8576,"f":0.74},{"w":8578,"f":0.76},{"w":8580,"f":0.75},{"w":8582,"f":0.71},{"w":8584,"f":0.75},{"w":8586,"f":0.76},{"w":8588,"f":0.74},{"w":8590,"f":0.76},{"w":8592,"f":0.75},{"w":8594,"f":0.73},{"w":8596,"f":0.75},{"w":8598,"f":0.74},{"w":8600,"f":0.76},{"w":8602,"f":0.74},{"w":8604,"f":0.75},{"w":8606,"f":0.73},{"w":8608,"f":0.70},{"w":8610,"f":0.61},{"w":8612,"f":0.68},{"w":8614,"f":0.73},{"w":8616,"f":0.75},{"w":8618,"f":0.73},{"w":8620,"f":0.76},{"w":8622,"f":0.72},{"w":8624,"f":0.75},{"w":8626,"f":0.74},{"w":8628,"f":0.76},{"w":8630,"f":0.73},{"w":8632,"f":0.75},{"w":8634,"f":0.72},{"w":8636,"f":0.75},{"w":8638,"f":0.73},{"w":8640,"f":0.74},{"w":8642,"f":0.72},{"w":8644,"f":0.73},{"w":8646,"f":0.71},{"w":8648,"f":0.73},{"w":8650,"f":0.70},{"w":8652,"f":0.68},{"w":8654,"f":0.66},
{"w":8656,"f":0.62},{"w":8657,"f":0.58},{"w":8658,"f":0.52},{"w":8659,"f":0.44},{"w":8660,"f":0.34},{"w":8661,"f":0.24},{"w":8662,"f":0.18},{"w":8663,"f":0.24},{"w":8664,"f":0.36},{"w":8665,"f":0.50},{"w":8666,"f":0.62},{"w":8667,"f":0.70},{"w":8668,"f":0.72},
{"w":8670,"f":0.68},{"w":8672,"f":0.72},{"w":8674,"f":0.62},{"w":8676,"f":0.58},{"w":8678,"f":0.70},{"w":8680,"f":0.73},{"w":8682,"f":0.66},{"w":8684,"f":0.60},{"w":8686,"f":0.70},{"w":8688,"f":0.42},{"w":8690,"f":0.62},{"w":8692,"f":0.72},{"w":8694,"f":0.70},{"w":8696,"f":0.73},{"w":8698,"f":0.70},{"w":8700,"f":0.72},{"w":8702,"f":0.69},{"w":8704,"f":0.71},{"w":8706,"f":0.68},{"w":8708,"f":0.71},{"w":8710,"f":0.68},{"w":8712,"f":0.70},{"w":8714,"f":0.72},{"w":8716,"f":0.69},{"w":8718,"f":0.71},{"w":8720,"f":0.68},{"w":8722,"f":0.70},{"w":8724,"f":0.71},{"w":8726,"f":0.69},{"w":8728,"f":0.70},{"w":8730,"f":0.68},{"w":8732,"f":0.70},{"w":8734,"f":0.69},{"w":8736,"f":0.65},{"w":8738,"f":0.69},{"w":8740,"f":0.71},{"w":8742,"f":0.69},{"w":8744,"f":0.71},{"w":8746,"f":0.70},{"w":8748,"f":0.72},{"w":8750,"f":0.71}
]},
"layer": [
{"mark": {"type": "line", "color": "black", "strokeWidth": 1.1, "clip": true},
 "encoding": {
  "x": {"field": "w", "type": "quantitative", "scale": {"domain": [8450, 8750], "nice": false, "zero": false}, "axis": {"orient": "bottom", "values": [8450,8500,8550,8600,8650,8700,8750], "tickSize": -6, "labels": false, "title": null, "maxExtent": 0}},
  "y": {"field": "f", "type": "quantitative", "scale": {"domain": [0, 1.1], "nice": false, "zero": false}, "axis": {"orient": "left", "values": [0.5, 1], "labelExpr": "toString(datum.value)", "tickSize": -6, "labelAngle": -90, "labelPadding": 14, "title": "Flux", "titlePadding": 6}}}},
{"mark": {"type": "line", "opacity": 0},
 "encoding": {
  "x": {"field": "w", "type": "quantitative", "scale": {"domain": [8450, 8750], "nice": false, "zero": false}, "axis": {"orient": "top", "values": [8450,8500,8550,8600,8650,8700,8750], "tickSize": -6, "labels": false, "title": null, "maxExtent": 0}},
  "y": {"field": "f", "type": "quantitative", "scale": {"domain": [0, 1.1], "nice": false, "zero": false}, "axis": {"orient": "right", "values": [0.5, 1], "tickSize": -6, "labels": false, "title": null, "maxExtent": 0}}}},
{"mark": {"type": "line", "opacity": 0},
 "encoding": {
  "x": {"field": "w", "type": "quantitative", "scale": {"domain": [8450, 8750], "nice": false, "zero": false}, "axis": {"orient": "bottom", "values": [8460,8470,8480,8490,8510,8520,8530,8540,8560,8570,8580,8590,8610,8620,8630,8640,8660,8670,8680,8690,8710,8720,8730,8740], "tickSize": -3, "labels": false, "title": null, "maxExtent": 0}},
  "y": {"field": "f", "type": "quantitative", "scale": {"domain": [0, 1.1], "nice": false, "zero": false}, "axis": {"orient": "left", "values": [0.1,0.2,0.3,0.4,0.6,0.7,0.8,0.9], "tickSize": -3, "labels": false, "title": null, "maxExtent": 0}}}},
{"mark": {"type": "line", "opacity": 0},
 "encoding": {
  "x": {"field": "w", "type": "quantitative", "scale": {"domain": [8450, 8750], "nice": false, "zero": false}, "axis": {"orient": "top", "values": [8460,8470,8480,8490,8510,8520,8530,8540,8560,8570,8580,8590,8610,8620,8630,8640,8660,8670,8680,8690,8710,8720,8730,8740], "tickSize": -3, "labels": false, "title": null, "maxExtent": 0}},
  "y": {"field": "f", "type": "quantitative", "scale": {"domain": [0, 1.1], "nice": false, "zero": false}, "axis": {"orient": "right", "values": [0.1,0.2,0.3,0.4,0.6,0.7,0.8,0.9], "tickSize": -3, "labels": false, "title": null, "maxExtent": 0}}}},
{"data": {"values": [{"label": "F3"}]},
 "mark": {"type": "text", "align": "left", "baseline": "middle"},
 "encoding": {
  "x": {"datum": 8476, "type": "quantitative", "scale": {"domain": [8450, 8750], "nice": false, "zero": false}, "axis": null},
  "y": {"datum": 0.3, "type": "quantitative", "scale": {"domain": [0, 1.1], "nice": false, "zero": false}, "axis": null},
  "text": {"field": "label"}}},
{"data": {"values": [{"label": "[Fe/H]=−0.7"}]},
 "mark": {"type": "text", "align": "center", "baseline": "middle"},
 "encoding": {
  "x": {"datum": 8706, "type": "quantitative", "scale": {"domain": [8450, 8750], "nice": false, "zero": false}, "axis": null},
  "y": {"datum": 0.3, "type": "quantitative", "scale": {"domain": [0, 1.1], "nice": false, "zero": false}, "axis": null},
  "text": {"field": "label"}}}
],
"resolve": {"axis": {"x": "independent", "y": "independent"}}
},
{
"width": 484, "height": 76.67,
"data": {"values": [
{"w":8450,"f":0.75},{"w":8452,"f":0.73},{"w":8454,"f":0.75},{"w":8456,"f":0.74},{"w":8458,"f":0.77},{"w":8460,"f":0.75},{"w":8462,"f":0.76},{"w":8464,"f":0.74},{"w":8466,"f":0.72},{"w":8468,"f":0.61},{"w":8470,"f":0.73},{"w":8472,"f":0.76},{"w":8474,"f":0.75},{"w":8476,"f":0.74},{"w":8478,"f":0.76},{"w":8480,"f":0.75},{"w":8482,"f":0.77},{"w":8484,"f":0.76},{"w":8486,"f":0.78},{"w":8488,"f":0.77},{"w":8490,"f":0.76},{"w":8492,"f":0.74},
{"w":8494,"f":0.72},{"w":8495,"f":0.67},{"w":8496,"f":0.58},{"w":8497,"f":0.42},{"w":8498,"f":0.30},{"w":8499,"f":0.44},{"w":8500,"f":0.64},{"w":8501,"f":0.72},{"w":8502,"f":0.75},
{"w":8504,"f":0.76},{"w":8506,"f":0.75},{"w":8508,"f":0.77},{"w":8510,"f":0.76},{"w":8512,"f":0.72},{"w":8514,"f":0.65},{"w":8516,"f":0.74},{"w":8518,"f":0.73},{"w":8520,"f":0.76},{"w":8522,"f":0.77},{"w":8524,"f":0.75},{"w":8526,"f":0.77},{"w":8528,"f":0.76},{"w":8530,"f":0.75},{"w":8532,"f":0.74},{"w":8534,"f":0.72},
{"w":8536,"f":0.70},{"w":8537,"f":0.66},{"w":8538,"f":0.61},{"w":8539,"f":0.53},{"w":8540,"f":0.42},{"w":8541,"f":0.28},{"w":8542,"f":0.20},{"w":8543,"f":0.28},{"w":8544,"f":0.42},{"w":8545,"f":0.55},{"w":8546,"f":0.64},{"w":8547,"f":0.70},{"w":8548,"f":0.74},
{"w":8550,"f":0.78},{"w":8552,"f":0.80},{"w":8554,"f":0.83},{"w":8556,"f":0.87},{"w":8558,"f":0.82},{"w":8560,"f":0.84},{"w":8562,"f":0.81},{"w":8564,"f":0.83},{"w":8566,"f":0.80},{"w":8568,"f":0.82},{"w":8570,"f":0.84},{"w":8572,"f":0.81},{"w":8574,"f":0.83},{"w":8576,"f":0.82},{"w":8578,"f":0.80},{"w":8580,"f":0.83},{"w":8582,"f":0.77},{"w":8584,"f":0.82},{"w":8586,"f":0.84},{"w":8588,"f":0.82},{"w":8590,"f":0.83},{"w":8592,"f":0.81},{"w":8594,"f":0.84},{"w":8596,"f":0.82},{"w":8598,"f":0.80},{"w":8600,"f":0.83},{"w":8602,"f":0.82},{"w":8604,"f":0.84},{"w":8606,"f":0.83},{"w":8608,"f":0.80},{"w":8610,"f":0.75},{"w":8612,"f":0.80},{"w":8614,"f":0.84},{"w":8616,"f":0.86},{"w":8618,"f":0.84},{"w":8620,"f":0.88},{"w":8622,"f":0.86},{"w":8624,"f":0.90},{"w":8626,"f":0.93},{"w":8628,"f":0.91},{"w":8630,"f":0.89},{"w":8632,"f":0.93},{"w":8634,"f":0.95},{"w":8636,"f":0.94},{"w":8638,"f":0.91},{"w":8640,"f":0.97},{"w":8642,"f":0.92},{"w":8644,"f":0.95},{"w":8646,"f":0.96},{"w":8648,"f":0.93},{"w":8650,"f":0.88},{"w":8652,"f":0.90},{"w":8654,"f":0.86},
{"w":8656,"f":0.82},{"w":8657,"f":0.76},{"w":8658,"f":0.66},{"w":8659,"f":0.52},{"w":8660,"f":0.36},{"w":8661,"f":0.22},{"w":8662,"f":0.18},{"w":8663,"f":0.28},{"w":8664,"f":0.48},{"w":8665,"f":0.70},{"w":8666,"f":0.86},{"w":8667,"f":0.82},{"w":8668,"f":0.90},
{"w":8670,"f":0.80},{"w":8672,"f":0.88},{"w":8674,"f":0.66},{"w":8676,"f":0.50},{"w":8678,"f":0.84},{"w":8680,"f":0.88},{"w":8682,"f":0.80},{"w":8684,"f":0.86},{"w":8686,"f":0.78},{"w":8688,"f":0.56},{"w":8690,"f":0.80},{"w":8692,"f":0.86},{"w":8694,"f":0.82},{"w":8696,"f":0.85},{"w":8698,"f":0.83},{"w":8700,"f":0.86},{"w":8702,"f":0.82},{"w":8704,"f":0.85},{"w":8706,"f":0.83},{"w":8708,"f":0.80},{"w":8710,"f":0.84},{"w":8712,"f":0.82},{"w":8714,"f":0.86},{"w":8716,"f":0.83},{"w":8718,"f":0.81},{"w":8720,"f":0.85},{"w":8722,"f":0.82},{"w":8724,"f":0.84},{"w":8726,"f":0.80},{"w":8728,"f":0.83},{"w":8730,"f":0.85},{"w":8732,"f":0.82},{"w":8734,"f":0.78},{"w":8736,"f":0.72},{"w":8738,"f":0.82},{"w":8740,"f":0.85},{"w":8742,"f":0.82},{"w":8744,"f":0.84},{"w":8746,"f":0.83},{"w":8748,"f":0.85},{"w":8750,"f":0.84}
]},
"layer": [
{"mark": {"type": "line", "color": "black", "strokeWidth": 1.1, "clip": true},
 "encoding": {
  "x": {"field": "w", "type": "quantitative", "scale": {"domain": [8450, 8750], "nice": false, "zero": false}, "axis": {"orient": "bottom", "values": [8450,8500,8550,8600,8650,8700,8750], "tickSize": -6, "labels": false, "title": null, "maxExtent": 0}},
  "y": {"field": "f", "type": "quantitative", "scale": {"domain": [0, 1.1], "nice": false, "zero": false}, "axis": {"orient": "left", "values": [0.5, 1], "labelExpr": "toString(datum.value)", "tickSize": -6, "labelAngle": -90, "labelPadding": 14, "title": "Flux", "titlePadding": 6}}}},
{"mark": {"type": "line", "opacity": 0},
 "encoding": {
  "x": {"field": "w", "type": "quantitative", "scale": {"domain": [8450, 8750], "nice": false, "zero": false}, "axis": {"orient": "top", "values": [8450,8500,8550,8600,8650,8700,8750], "tickSize": -6, "labels": false, "title": null, "maxExtent": 0}},
  "y": {"field": "f", "type": "quantitative", "scale": {"domain": [0, 1.1], "nice": false, "zero": false}, "axis": {"orient": "right", "values": [0.5, 1], "tickSize": -6, "labels": false, "title": null, "maxExtent": 0}}}},
{"mark": {"type": "line", "opacity": 0},
 "encoding": {
  "x": {"field": "w", "type": "quantitative", "scale": {"domain": [8450, 8750], "nice": false, "zero": false}, "axis": {"orient": "bottom", "values": [8460,8470,8480,8490,8510,8520,8530,8540,8560,8570,8580,8590,8610,8620,8630,8640,8660,8670,8680,8690,8710,8720,8730,8740], "tickSize": -3, "labels": false, "title": null, "maxExtent": 0}},
  "y": {"field": "f", "type": "quantitative", "scale": {"domain": [0, 1.1], "nice": false, "zero": false}, "axis": {"orient": "left", "values": [0.1,0.2,0.3,0.4,0.6,0.7,0.8,0.9], "tickSize": -3, "labels": false, "title": null, "maxExtent": 0}}}},
{"mark": {"type": "line", "opacity": 0},
 "encoding": {
  "x": {"field": "w", "type": "quantitative", "scale": {"domain": [8450, 8750], "nice": false, "zero": false}, "axis": {"orient": "top", "values": [8460,8470,8480,8490,8510,8520,8530,8540,8560,8570,8580,8590,8610,8620,8630,8640,8660,8670,8680,8690,8710,8720,8730,8740], "tickSize": -3, "labels": false, "title": null, "maxExtent": 0}},
  "y": {"field": "f", "type": "quantitative", "scale": {"domain": [0, 1.1], "nice": false, "zero": false}, "axis": {"orient": "right", "values": [0.1,0.2,0.3,0.4,0.6,0.7,0.8,0.9], "tickSize": -3, "labels": false, "title": null, "maxExtent": 0}}}},
{"data": {"values": [{"label": "F2"}]},
 "mark": {"type": "text", "align": "left", "baseline": "middle"},
 "encoding": {
  "x": {"datum": 8476, "type": "quantitative", "scale": {"domain": [8450, 8750], "nice": false, "zero": false}, "axis": null},
  "y": {"datum": 0.3, "type": "quantitative", "scale": {"domain": [0, 1.1], "nice": false, "zero": false}, "axis": null},
  "text": {"field": "label"}}},
{"data": {"values": [{"label": "[Fe/H]=−0.8"}]},
 "mark": {"type": "text", "align": "center", "baseline": "middle"},
 "encoding": {
  "x": {"datum": 8706, "type": "quantitative", "scale": {"domain": [8450, 8750], "nice": false, "zero": false}, "axis": null},
  "y": {"datum": 0.3, "type": "quantitative", "scale": {"domain": [0, 1.1], "nice": false, "zero": false}, "axis": null},
  "text": {"field": "label"}}}
],
"resolve": {"axis": {"x": "independent", "y": "independent"}}
},
{
"width": 484, "height": 76.67,
"data": {"values": [
{"w":8450,"f":0.77},{"w":8452,"f":0.75},{"w":8454,"f":0.78},{"w":8456,"f":0.76},{"w":8458,"f":0.74},{"w":8460,"f":0.77},{"w":8462,"f":0.76},{"w":8464,"f":0.72},{"w":8466,"f":0.66},{"w":8468,"f":0.56},{"w":8470,"f":0.72},{"w":8472,"f":0.77},{"w":8474,"f":0.79},{"w":8476,"f":0.77},{"w":8478,"f":0.80},{"w":8480,"f":0.76},{"w":8482,"f":0.78},{"w":8484,"f":0.77},{"w":8486,"f":0.79},{"w":8488,"f":0.76},{"w":8490,"f":0.78},{"w":8492,"f":0.75},
{"w":8494,"f":0.72},{"w":8495,"f":0.66},{"w":8496,"f":0.56},{"w":8497,"f":0.40},{"w":8498,"f":0.28},{"w":8499,"f":0.42},{"w":8500,"f":0.62},{"w":8501,"f":0.72},{"w":8502,"f":0.76},
{"w":8504,"f":0.78},{"w":8506,"f":0.76},{"w":8508,"f":0.80},{"w":8510,"f":0.77},{"w":8512,"f":0.72},{"w":8514,"f":0.61},{"w":8516,"f":0.72},{"w":8518,"f":0.68},{"w":8520,"f":0.76},{"w":8522,"f":0.79},{"w":8524,"f":0.77},{"w":8526,"f":0.78},{"w":8528,"f":0.76},{"w":8530,"f":0.77},{"w":8532,"f":0.75},{"w":8534,"f":0.72},
{"w":8536,"f":0.69},{"w":8537,"f":0.65},{"w":8538,"f":0.60},{"w":8539,"f":0.52},{"w":8540,"f":0.40},{"w":8541,"f":0.26},{"w":8542,"f":0.17},{"w":8543,"f":0.25},{"w":8544,"f":0.40},{"w":8545,"f":0.53},{"w":8546,"f":0.63},{"w":8547,"f":0.69},{"w":8548,"f":0.72},
{"w":8550,"f":0.74},{"w":8552,"f":0.76},{"w":8554,"f":0.78},{"w":8556,"f":0.80},{"w":8558,"f":0.77},{"w":8560,"f":0.79},{"w":8562,"f":0.78},{"w":8564,"f":0.80},{"w":8566,"f":0.78},{"w":8568,"f":0.79},{"w":8570,"f":0.77},{"w":8572,"f":0.79},{"w":8574,"f":0.80},{"w":8576,"f":0.78},{"w":8578,"f":0.79},{"w":8580,"f":0.77},{"w":8582,"f":0.73},{"w":8584,"f":0.78},{"w":8586,"f":0.79},{"w":8588,"f":0.77},{"w":8590,"f":0.79},{"w":8592,"f":0.78},{"w":8594,"f":0.76},{"w":8596,"f":0.78},{"w":8598,"f":0.77},{"w":8600,"f":0.79},{"w":8602,"f":0.78},{"w":8604,"f":0.76},{"w":8606,"f":0.78},{"w":8608,"f":0.74},{"w":8610,"f":0.68},{"w":8612,"f":0.73},{"w":8614,"f":0.77},{"w":8616,"f":0.79},{"w":8618,"f":0.77},{"w":8620,"f":0.79},{"w":8622,"f":0.78},{"w":8624,"f":0.80},{"w":8626,"f":0.77},{"w":8628,"f":0.79},{"w":8630,"f":0.78},{"w":8632,"f":0.80},{"w":8634,"f":0.78},{"w":8636,"f":0.79},{"w":8638,"f":0.77},{"w":8640,"f":0.79},{"w":8642,"f":0.78},{"w":8644,"f":0.76},{"w":8646,"f":0.78},{"w":8648,"f":0.77},{"w":8650,"f":0.76},{"w":8652,"f":0.75},{"w":8654,"f":0.72},
{"w":8656,"f":0.68},{"w":8657,"f":0.62},{"w":8658,"f":0.54},{"w":8659,"f":0.44},{"w":8660,"f":0.32},{"w":8661,"f":0.22},{"w":8662,"f":0.17},{"w":8663,"f":0.24},{"w":8664,"f":0.38},{"w":8665,"f":0.54},{"w":8666,"f":0.66},{"w":8667,"f":0.74},{"w":8668,"f":0.76},
{"w":8670,"f":0.74},{"w":8672,"f":0.76},{"w":8674,"f":0.62},{"w":8676,"f":0.54},{"w":8678,"f":0.72},{"w":8680,"f":0.75},{"w":8682,"f":0.68},{"w":8684,"f":0.72},{"w":8686,"f":0.66},{"w":8688,"f":0.52},{"w":8690,"f":0.68},{"w":8692,"f":0.74},{"w":8694,"f":0.72},{"w":8696,"f":0.74},{"w":8698,"f":0.72},{"w":8700,"f":0.74},{"w":8702,"f":0.72},{"w":8704,"f":0.73},{"w":8706,"f":0.71},{"w":8708,"f":0.73},{"w":8710,"f":0.70},{"w":8712,"f":0.72},{"w":8714,"f":0.73},{"w":8716,"f":0.71},{"w":8718,"f":0.73},{"w":8720,"f":0.71},{"w":8722,"f":0.72},{"w":8724,"f":0.70},{"w":8726,"f":0.72},{"w":8728,"f":0.71},{"w":8730,"f":0.73},{"w":8732,"f":0.70},{"w":8734,"f":0.68},{"w":8736,"f":0.62},{"w":8738,"f":0.70},{"w":8740,"f":0.72},{"w":8742,"f":0.70},{"w":8744,"f":0.72},{"w":8746,"f":0.71},{"w":8748,"f":0.72},{"w":8750,"f":0.71}
]},
"layer": [
{"mark": {"type": "line", "color": "black", "strokeWidth": 1.1, "clip": true},
 "encoding": {
  "x": {"field": "w", "type": "quantitative", "scale": {"domain": [8450, 8750], "nice": false, "zero": false}, "axis": {"orient": "bottom", "values": [8450,8500,8550,8600,8650,8700,8750], "format": "d", "tickSize": -6, "labels": true, "labelPadding": 19, "title": "Wavelength (Å)", "titlePadding": 8, "titleFontSize": 12}},
  "y": {"field": "f", "type": "quantitative", "scale": {"domain": [0, 1.1], "nice": false, "zero": false}, "axis": {"orient": "left", "values": [0.5, 1], "labelExpr": "toString(datum.value)", "tickSize": -6, "labelAngle": -90, "labelPadding": 14, "title": "Flux", "titlePadding": 6}}}},
{"mark": {"type": "line", "opacity": 0},
 "encoding": {
  "x": {"field": "w", "type": "quantitative", "scale": {"domain": [8450, 8750], "nice": false, "zero": false}, "axis": {"orient": "top", "values": [8450,8500,8550,8600,8650,8700,8750], "tickSize": -6, "labels": false, "title": null, "maxExtent": 0}},
  "y": {"field": "f", "type": "quantitative", "scale": {"domain": [0, 1.1], "nice": false, "zero": false}, "axis": {"orient": "right", "values": [0.5, 1], "tickSize": -6, "labels": false, "title": null, "maxExtent": 0}}}},
{"mark": {"type": "line", "opacity": 0},
 "encoding": {
  "x": {"field": "w", "type": "quantitative", "scale": {"domain": [8450, 8750], "nice": false, "zero": false}, "axis": {"orient": "bottom", "values": [8460,8470,8480,8490,8510,8520,8530,8540,8560,8570,8580,8590,8610,8620,8630,8640,8660,8670,8680,8690,8710,8720,8730,8740], "tickSize": -3, "labels": false, "title": null, "maxExtent": 0}},
  "y": {"field": "f", "type": "quantitative", "scale": {"domain": [0, 1.1], "nice": false, "zero": false}, "axis": {"orient": "left", "values": [0.1,0.2,0.3,0.4,0.6,0.7,0.8,0.9], "tickSize": -3, "labels": false, "title": null, "maxExtent": 0}}}},
{"mark": {"type": "line", "opacity": 0},
 "encoding": {
  "x": {"field": "w", "type": "quantitative", "scale": {"domain": [8450, 8750], "nice": false, "zero": false}, "axis": {"orient": "top", "values": [8460,8470,8480,8490,8510,8520,8530,8540,8560,8570,8580,8590,8610,8620,8630,8640,8660,8670,8680,8690,8710,8720,8730,8740], "tickSize": -3, "labels": false, "title": null, "maxExtent": 0}},
  "y": {"field": "f", "type": "quantitative", "scale": {"domain": [0, 1.1], "nice": false, "zero": false}, "axis": {"orient": "right", "values": [0.1,0.2,0.3,0.4,0.6,0.7,0.8,0.9], "tickSize": -3, "labels": false, "title": null, "maxExtent": 0}}}},
{"data": {"values": [{"label": "F1"}]},
 "mark": {"type": "text", "align": "left", "baseline": "middle"},
 "encoding": {
  "x": {"datum": 8476, "type": "quantitative", "scale": {"domain": [8450, 8750], "nice": false, "zero": false}, "axis": null},
  "y": {"datum": 0.3, "type": "quantitative", "scale": {"domain": [0, 1.1], "nice": false, "zero": false}, "axis": null},
  "text": {"field": "label"}}},
{"data": {"values": [{"label": "[Fe/H]=−0.7"}]},
 "mark": {"type": "text", "align": "center", "baseline": "middle"},
 "encoding": {
  "x": {"datum": 8706, "type": "quantitative", "scale": {"domain": [8450, 8750], "nice": false, "zero": false}, "axis": null},
  "y": {"datum": 0.3, "type": "quantitative", "scale": {"domain": [0, 1.1], "nice": false, "zero": false}, "axis": null},
  "text": {"field": "label"}}}
],
"resolve": {"axis": {"x": "independent", "y": "independent"}}
}
]
}
